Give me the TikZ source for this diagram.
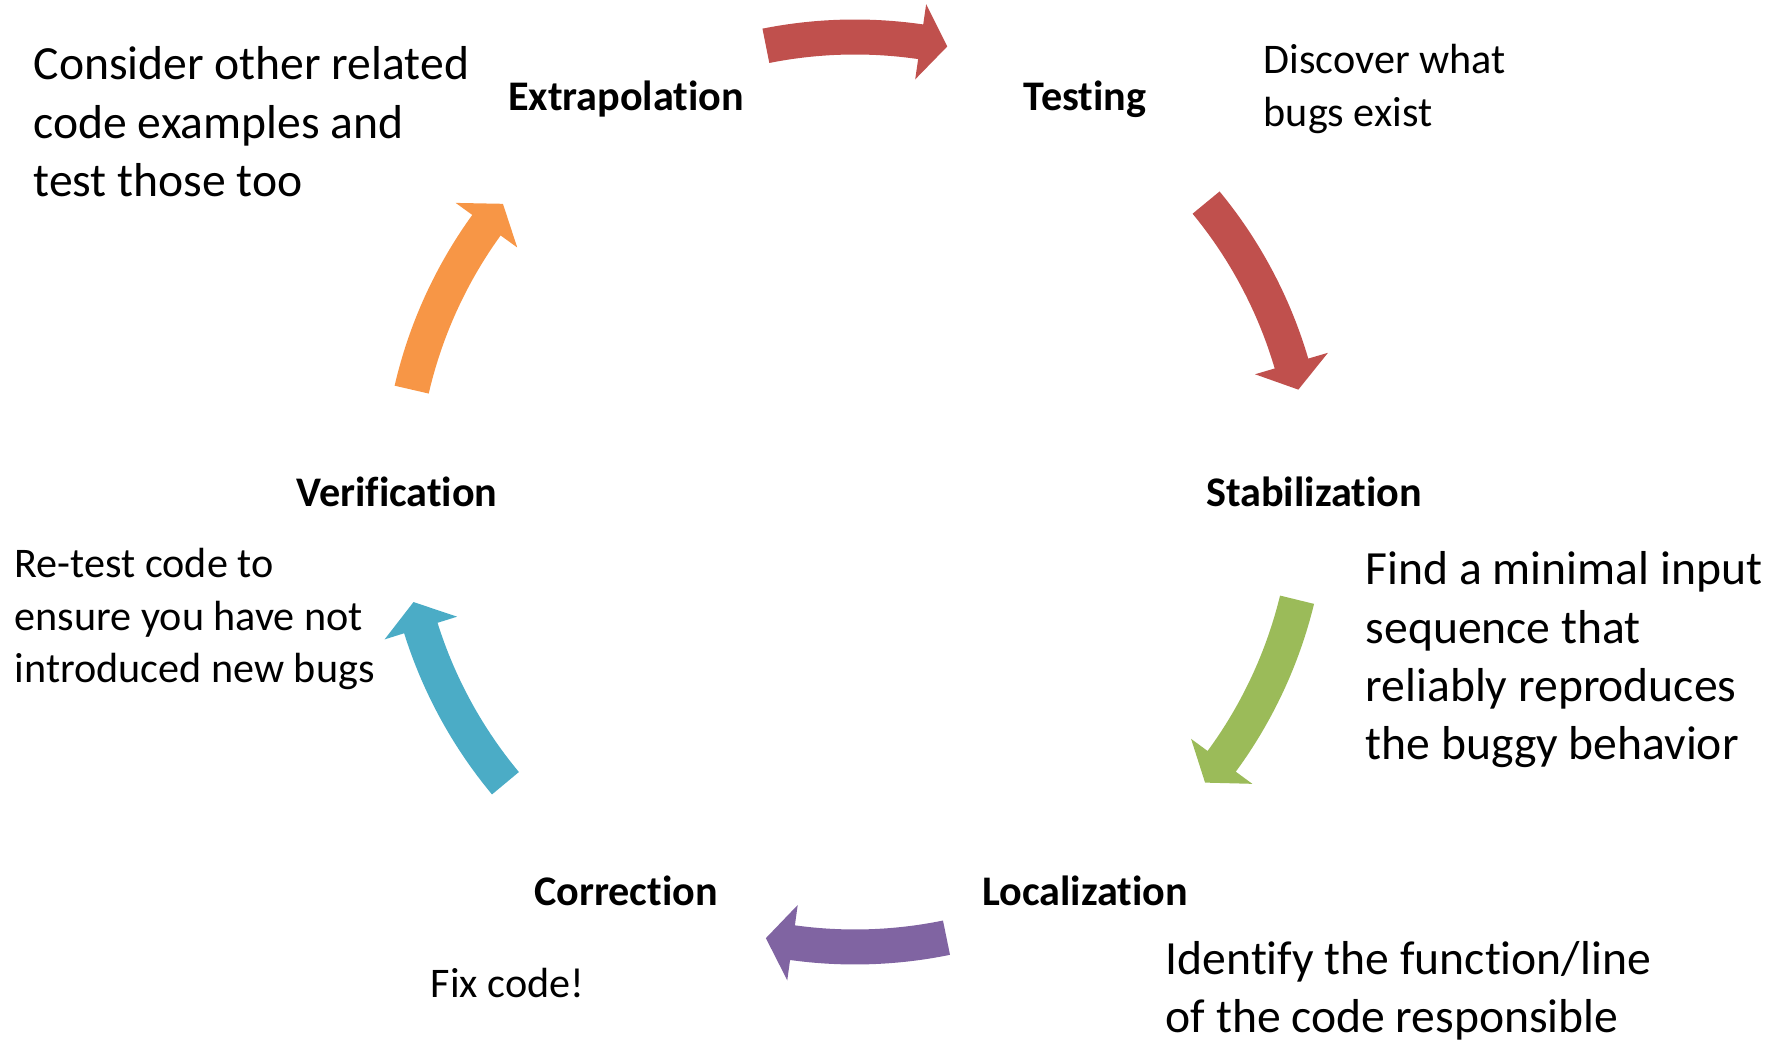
\documentclass[tikz,border=0pt]{standalone}
\usepackage{fontspec}
\setmainfont{Carlito}[Ligatures=NoCommon]
\usepackage{tikz}
\usetikzlibrary{calc}
\definecolor{Brick}{HTML}{C0504D}
\definecolor{Olive}{HTML}{9BBB59}
\definecolor{Plum}{HTML}{8064A2}
\definecolor{Teal}{HTML}{4BACC6}
\definecolor{Amber}{HTML}{F79646}

\tikzset{
    stage/.style={inner sep=0pt, font=\fontsize{12}{14.5}\selectfont\bfseries},
    note/.style={inner sep=0pt, anchor=west, align=left, font=\fontsize{12}{14.9}\selectfont},
    bignote/.style={inner sep=0pt, anchor=west, align=left, font=\fontsize{13.55}{16.6}\selectfont}
}

% curved block arrow round the hub: colour, start angle, head base angle, tip angle
\newcommand{\cyclearrow}[4]{%
    \fill[#1] ($(hub)+(#2:4.725)$) arc[start angle=#2, end angle=#3, radius=4.725]
        -- ($(hub)+(#3:4.93)$) -- ($(hub)+(#4:4.55)$) -- ($(hub)+(#3:4.17)$)
        -- ($(hub)+(#3:4.375)$) arc[start angle=#3, end angle=#2, radius=4.375] -- cycle;}

\begin{document}
\begin{tikzpicture}
    \useasboundingbox (0,0) rectangle (17.79,10.40);
    \coordinate (hub) at (8.55,5.48);

    \node[stage] (extrap) at (6.26,9.405) {Extrapolation};
    \node[stage] (testing) at (10.85,9.405) {Testing};
    \node[stage] (stabil) at (13.14,5.48) {Stabilization};
    \node[stage] (local) at (10.85,1.49) {Localization};
    \node[stage] (correct) at (6.26,1.49) {Correction};
    \node[stage] (verify) at (3.97,5.48) {Verification};

    \cyclearrow{Brick}{101.3}{81.7}{78.3}
    \cyclearrow{Brick}{39.5}{16.4}{13}
    \cyclearrow{Olive}{-13.7}{-36.3}{-39.7}
    \cyclearrow{Plum}{-78.4}{-97.9}{-101.3}
    \cyclearrow{Teal}{219.8}{197.4}{194}
    \cyclearrow{Amber}{167}{144.1}{140.7}

    \node[bignote] (extrapnote) at (0.33,9.18) {Consider other related\\code examples and\\test those too};
    \node[note] (testnote) at (12.63,9.51) {Discover what\\bugs exist};
    \node[bignote] (stabilnote) at (13.65,3.80) {Find a minimal input\\sequence that\\reliably reproduces\\the buggy behavior};
    \node[bignote] (localnote) at (11.65,0.49) {Identify the function/line\\of the code responsible};
    \node[note] (correctnote) at (4.30,0.57) {Fix code!};
    \node[note] (verifynote) at (0.14,4.21) {Re-test code to\\ensure you have not\\introduced new bugs};
\end{tikzpicture}
\end{document}
